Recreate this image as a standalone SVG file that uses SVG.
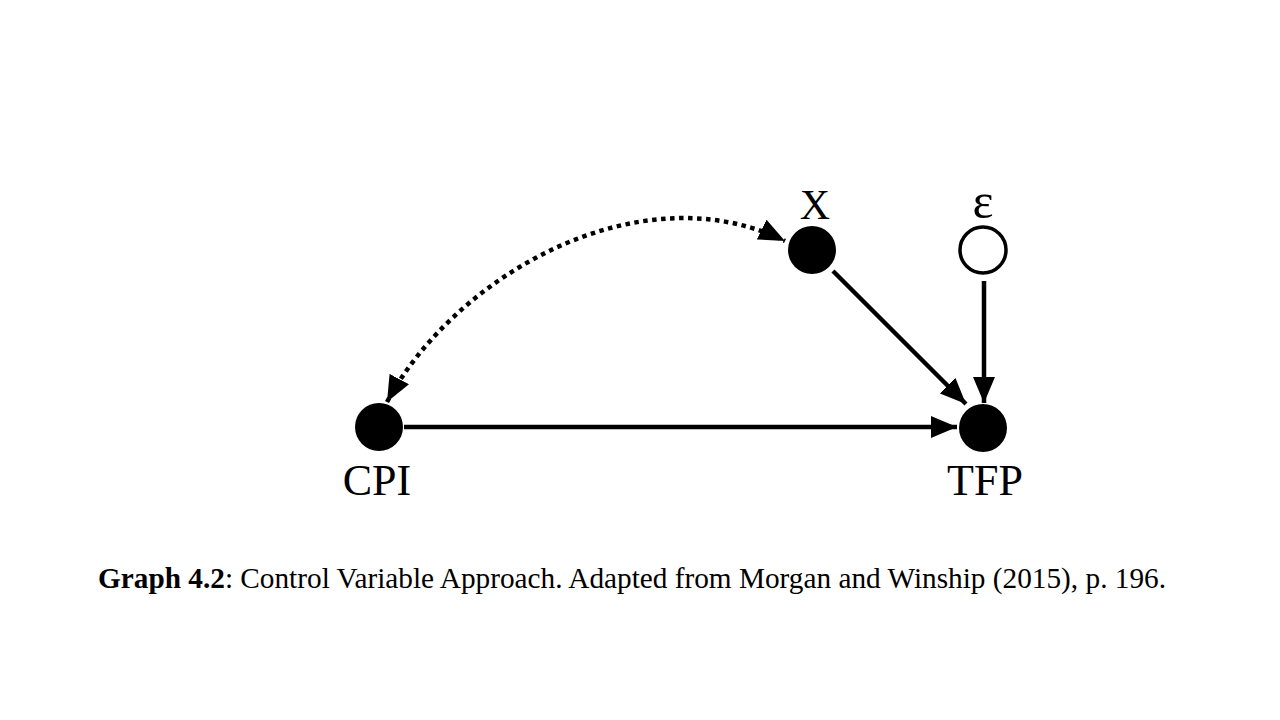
<svg xmlns="http://www.w3.org/2000/svg" width="1280" height="720" viewBox="0 0 1280 720">
<style>
.lbl{font-family:"Liberation Serif","Times New Roman",serif;fill:#000;text-anchor:middle}
.edge{stroke:#000;stroke-width:4.5;fill:none}
.dot{stroke:#000;stroke-width:4.5;fill:none;stroke-dasharray:4.5 4.5}
.cap{font-family:"Liberation Serif","Times New Roman",serif;font-size:30px;fill:#000}
</style>
<defs>
<marker id="ah" viewBox="0 0 26 22" refX="26" refY="11" markerWidth="26" markerHeight="22" markerUnits="userSpaceOnUse" orient="auto">
<path d="M0,0 L26,11 L0,22 Z" fill="#000"/>
</marker>
<marker id="ahs" viewBox="0 0 26 22" refX="0" refY="11" markerWidth="26" markerHeight="22" markerUnits="userSpaceOnUse" orient="auto">
<path d="M26,0 L0,11 L26,22 Z" fill="#000"/>
</marker>
</defs>
<rect width="1280" height="720" fill="#fff"/>
<g id="connectors">
<path class="dot" d="M387,402 C455,275 640,170 785,241" marker-start="url(#ahs)" marker-end="url(#ah)"/>
<line class="edge" x1="404" y1="427" x2="957" y2="427" marker-end="url(#ah)"/>
<line class="edge" x1="833" y1="271" x2="966" y2="404" marker-end="url(#ah)"/>
<line class="edge" x1="984" y1="281" x2="984" y2="403" marker-end="url(#ah)"/>
</g>
<g id="node-cpi">
<circle cx="379" cy="427" r="24" fill="#000"/>
<text class="lbl" x="377" y="495" font-size="44">CPI</text>
</g>
<g id="node-x">
<circle cx="812" cy="250" r="24" fill="#000"/>
<text class="lbl" x="815" y="219" font-size="42">X</text>
</g>
<g id="node-eps">
<circle cx="983" cy="250" r="23" fill="#fff" stroke="#000" stroke-width="3.5"/>
<text class="lbl" x="983" y="218" font-size="50">ε</text>
</g>
<g id="node-tfp">
<circle cx="983" cy="428" r="24" fill="#000"/>
<text class="lbl" x="985" y="495" font-size="44">TFP</text>
</g>
<text class="cap" x="98" y="588" textLength="1068" lengthAdjust="spacingAndGlyphs"><tspan font-weight="bold">Graph 4.2</tspan>: Control Variable Approach. Adapted from Morgan and Winship (2015), p. 196.</text>
</svg>
